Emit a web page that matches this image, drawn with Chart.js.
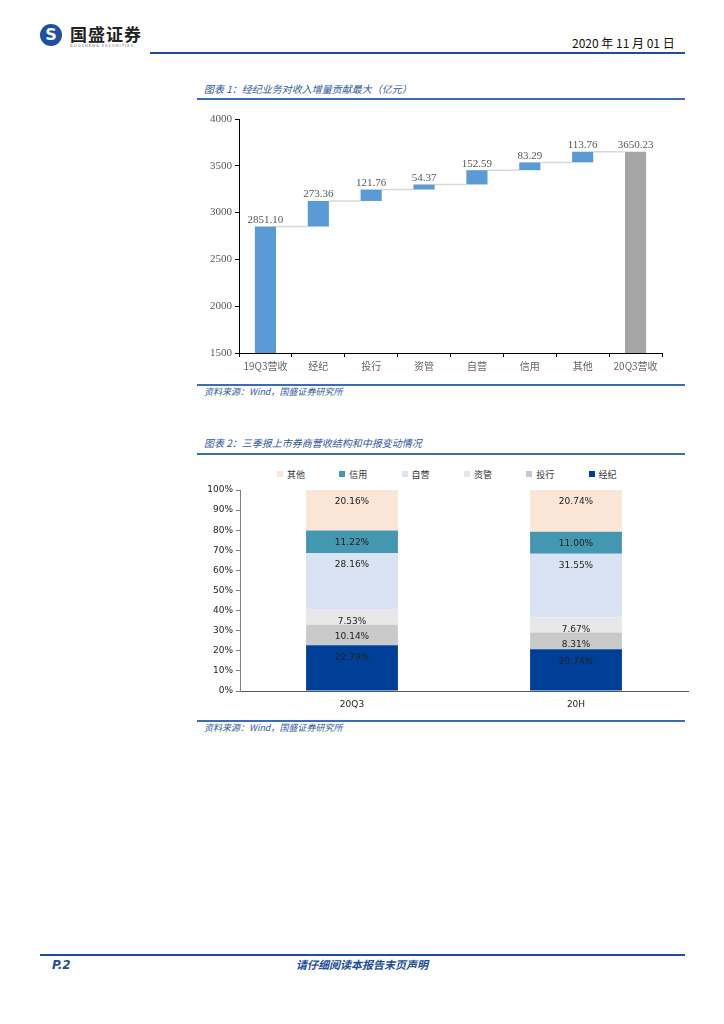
<!DOCTYPE html>
<html>
<head>
<meta charset="utf-8">
<script src="https://cdn.jsdelivr.net/npm/chart.js@4.4.0/dist/chart.umd.min.js"></script>
<style>
  body { margin: 0; width: 724px; height: 1024px; background: #fff; position: relative; overflow: hidden;
         font-family: "Noto Sans CJK SC", "Noto Sans", sans-serif; }
  .abs { position: absolute; }
  .rule { position: absolute; background: #3d6cb4; }
  .title { position: absolute; left: 204px; font-size: 10px; color: #2f5aa0; font-style: italic; line-height: 12px; }
  .source { position: absolute; left: 204px; font-size: 9px; color: #2f5aa0; font-style: italic; line-height: 11px; }
  .legend-item { position: absolute; top: 469px; font-size: 9px; color: #333; line-height: 12px; }
  .legend-item span { display: inline-block; width: 6px; height: 6px; margin-right: 4px; vertical-align: 1px; }
</style>
</head>
<body>

<!-- header -->
<div class="abs" style="left:40px;top:24px;width:22px;height:22px;border-radius:50%;background:#1d50a0;color:#fff;font:bold 16px 'DejaVu Sans';text-align:center;line-height:22px;">S</div>
<div class="abs" style="left:70px;top:24px;font-size:17px;font-weight:bold;color:#222;line-height:20px;letter-spacing:1px;">国盛证券</div>
<div class="abs" style="left:70px;top:43px;font-size:4px;color:#666;line-height:5px;letter-spacing:1px;">GUOSHENG SECURITIES</div>
<div class="abs" style="left:572px;top:35px;font-size:12px;color:#111;line-height:16px;">2020 年 11 月 01 日</div>
<div class="rule" style="left:150px;top:52px;width:535px;height:2px;background:#1f4e9a;"></div>

<!-- chart 1 -->
<div class="title" style="top:83px;">图表 1：经纪业务对收入增量贡献最大（亿元）</div>
<div class="rule" style="left:197px;top:98px;width:488px;height:2px;"></div>
<div class="abs" style="left:190px;top:105px;width:500px;height:278px;"><canvas id="waterfallChart"></canvas></div>
<div class="rule" style="left:197px;top:384px;width:488px;height:1.5px;"></div>
<div class="source" style="top:386px;">资料来源：Wind，国盛证券研究所</div>

<!-- chart 2 -->
<div class="title" style="top:437px;">图表 2：三季报上市券商营收结构和中报变动情况</div>
<div class="rule" style="left:197px;top:453px;width:488px;height:2px;"></div>
<div id="mixLegend"></div>
<div class="abs" style="left:190px;top:480px;width:500px;height:239px;"><canvas id="mixChart"></canvas></div>
<div class="rule" style="left:197px;top:720px;width:488px;height:1.5px;"></div>
<div class="source" style="top:722px;">资料来源：Wind，国盛证券研究所</div>

<!-- footer -->
<div class="rule" style="left:40px;top:954px;width:645px;height:2px;background:#1f4e9a;"></div>
<div class="abs" style="left:52px;top:958px;font:bold italic 12px 'DejaVu Sans';color:#1f4e9a;line-height:14px;">P.2</div>
<div class="abs" style="left:0;width:724px;top:957px;text-align:center;font-size:11px;font-weight:bold;font-style:italic;color:#1f4e9a;line-height:14px;">请仔细阅读本报告末页声明</div>

<script>
// Waterfall - revenue change 19Q3 -> 20Q3 (亿元)
const wfLabels = ['19Q3营收', '经纪', '投行', '资管', '自营', '信用', '其他', '20Q3营收'];
const wfStart = 2851.10;
const wfDeltas = [273.36, 121.76, 54.37, 152.59, 83.29, 113.76];
const wfEnd = 3650.23;
const wfAxisMin = 1500;
const wfAxisMax = 4000;

// Revenue mix (%)
const mixCats = ['20Q3', '20H'];
const mixNames = ['经纪', '投行', '资管', '自营', '信用', '其他'];
const brokerage = [22.79, 20.74];
const ibanking = [10.14, 8.31];
const assetMgmt = [7.53, 7.67];
const proprietary = [28.16, 31.55];
const credit = [11.22, 11.00];
const others = [20.16, 20.74];
const mixValues = [brokerage, ibanking, assetMgmt, proprietary, credit, others];
const mixColors = ['#003f97', '#c9c9c9', '#e7e7e7', '#dae3f3', '#4397b0', '#fbe5d6'];

// floating bars for the waterfall
const wfBars = [[wfAxisMin, wfStart]];
const wfText = [wfStart.toFixed(2)];
let level = wfStart;
wfDeltas.forEach(d => {
  wfBars.push([level, level + d]);
  wfText.push(d.toFixed(2));
  level += d;
});
wfBars.push([wfAxisMin, wfEnd]);
wfText.push(wfEnd.toFixed(2));
const wfColors = wfBars.map((b, i) => i === wfBars.length - 1 ? '#a5a5a5' : '#5b9bd5');

const serif = { family: '"Liberation Serif", "DejaVu Serif", serif', size: 11 };

const waterfallExtras = {
  id: 'waterfallExtras',
  beforeDatasetsDraw(chart) {
    const ctx = chart.ctx;
    const els = chart.getDatasetMeta(0).data;
    ctx.save();
    ctx.strokeStyle = '#d9d9d9';
    ctx.lineWidth = 1.5;
    for (let i = 0; i < els.length - 1; i++) {
      const a = els[i], b = els[i + 1];
      ctx.beginPath();
      ctx.moveTo(a.x + a.width / 2, a.y);
      ctx.lineTo(b.x - b.width / 2, a.y);
      ctx.stroke();
    }
    ctx.restore();
  },
  afterDatasetsDraw(chart) {
    const ctx = chart.ctx;
    const els = chart.getDatasetMeta(0).data;
    ctx.save();
    ctx.font = '11px ' + serif.family;
    ctx.fillStyle = '#595959';
    ctx.textAlign = 'center';
    ctx.textBaseline = 'bottom';
    els.forEach((el, i) => ctx.fillText(wfText[i], el.x, el.y - 1));
    ctx.restore();
  }
};

new Chart(document.getElementById('waterfallChart'), {
  type: 'bar',
  data: {
    labels: wfLabels,
    datasets: [{
      data: wfBars,
      backgroundColor: wfColors,
      barPercentage: 0.4,
      categoryPercentage: 1
    }]
  },
  options: {
    responsive: true,
    maintainAspectRatio: false,
    animation: false,
    layout: { padding: { top: 14, right: 28, left: 0, bottom: 0 } },
    plugins: { legend: { display: false }, tooltip: { enabled: false } },
    scales: {
      x: {
        grid: { drawOnChartArea: false, tickLength: 4, color: '#000' },
        border: { color: '#000' },
        ticks: { color: '#666', padding: 3, font: { family: '"Noto Sans CJK SC"', size: 10 } },
        afterFit(s) { s.height = 30; }
      },
      y: {
        min: wfAxisMin,
        max: wfAxisMax,
        grid: { drawOnChartArea: false, tickLength: 4, color: '#000' },
        border: { color: '#000' },
        ticks: { stepSize: 500, color: '#595959', padding: 3, font: serif, callback: v => String(v) },
        afterFit(s) { s.width = 49; }
      }
    }
  },
  plugins: [waterfallExtras]
});

// legend for the mix chart (reverse order, like the original)
const legendBox = document.getElementById('mixLegend');
mixNames.slice().reverse().forEach((name, i) => {
  const idx = mixNames.length - 1 - i;
  const item = document.createElement('div');
  item.className = 'legend-item';
  item.style.left = (277 + i * 62.3) + 'px';
  item.innerHTML = '<span style="background:' + mixColors[idx] + '"></span>' + name;
  legendBox.appendChild(item);
});

const mixLabels = {
  id: 'mixLabels',
  afterDatasetsDraw(chart) {
    const ctx = chart.ctx;
    ctx.save();
    ctx.font = '9px "DejaVu Sans"';
    ctx.fillStyle = '#222';
    ctx.textAlign = 'center';
    ctx.textBaseline = 'middle';
    chart.data.datasets.forEach((ds, di) => {
      chart.getDatasetMeta(di).data.forEach((el, i) => {
        ctx.fillText(ds.data[i].toFixed(2) + '%', el.x, el.y + 12);
      });
    });
    ctx.restore();
  }
};

new Chart(document.getElementById('mixChart'), {
  type: 'bar',
  data: {
    labels: mixCats,
    datasets: mixNames.map((name, i) => ({
      label: name,
      data: mixValues[i],
      backgroundColor: mixColors[i],
      barPercentage: 0.41,
      categoryPercentage: 1
    }))
  },
  options: {
    responsive: true,
    maintainAspectRatio: false,
    animation: false,
    layout: { padding: { top: 10, right: 2, left: 0, bottom: 0 } },
    plugins: { legend: { display: false }, tooltip: { enabled: false } },
    scales: {
      x: {
        stacked: true,
        grid: { display: false, drawTicks: false },
        border: { color: '#595959' },
        ticks: { color: '#222', padding: 8, font: { family: '"DejaVu Sans"', size: 9 } },
        afterFit(s) { s.height = 28; }
      },
      y: {
        stacked: true,
        min: 0,
        max: 100,
        grid: { drawOnChartArea: false, tickLength: 4, color: '#808080' },
        border: { color: '#808080' },
        ticks: { stepSize: 10, color: '#222', padding: 3, font: { family: '"DejaVu Sans"', size: 9 },
                 callback: v => v + '%' },
        afterFit(s) { s.width = 50; }
      }
    }
  },
  plugins: [mixLabels]
});
</script>
</body>
</html>
